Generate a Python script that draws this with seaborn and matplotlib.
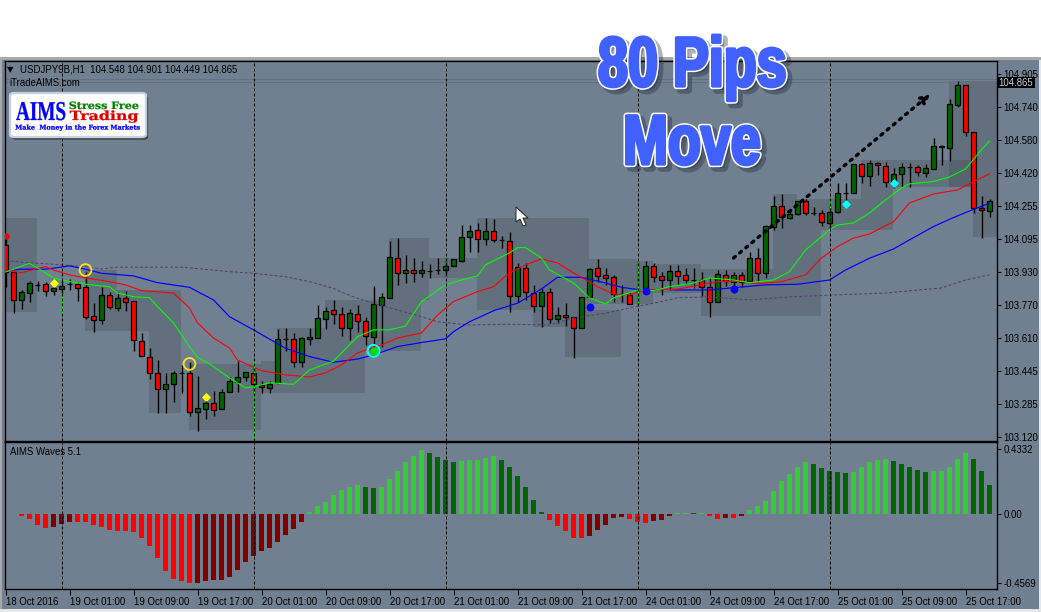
import numpy as np
import seaborn as sns
import matplotlib
matplotlib.use('Agg')
import matplotlib.pyplot as plt
import matplotlib.patheffects as pe
from matplotlib.patches import Rectangle, FancyBboxPatch, Polygon
from matplotlib.transforms import Affine2D

W, H = 1041, 612

# candles, one row per hourly bar: open, high, low, close
opens = [104.065,103.932,103.795,103.831,103.870,103.872,103.841,103.851,103.872,103.872,
         103.857,103.715,103.698,103.818,103.757,103.803,103.789,103.592,103.517,103.435,
         103.357,103.381,103.437,103.438,103.244,103.259,103.288,103.259,103.342,103.394,
         103.415,103.435,103.379,103.364,103.386,103.602,103.602,103.492,103.602,103.610,
         103.703,103.744,103.725,103.659,103.725,103.693,103.615,103.770,103.803,104.000,
         103.926,103.941,103.929,103.939,103.941,103.941,103.963,103.988,104.103,104.137,
         104.093,104.135,104.090,104.086,103.815,103.951,103.831,103.767,103.836,103.700,
         103.720,103.710,103.656,103.808,103.951,103.916,103.906,103.823,103.820,103.844,
         103.844,103.960,103.911,103.895,103.937,103.916,103.895,103.895,103.860,103.787,
         103.916,103.885,103.916,103.890,104.000,103.926,104.152,104.257,104.196,104.216,
         104.280,104.222,104.224,104.172,104.226,104.319,104.319,104.461,104.405,104.466,
         104.454,104.376,104.412,104.447,104.450,104.420,104.437,104.553,104.543,104.751,
         104.849,104.621,104.245,104.233]
highs = [104.109,103.932,103.844,103.888,103.888,103.885,103.877,103.893,103.897,103.883,
         103.932,103.779,103.857,103.836,103.836,103.841,103.790,103.632,103.558,103.500,
         103.437,103.448,103.476,103.491,103.422,103.309,103.348,103.357,103.418,103.495,
         103.443,103.468,103.399,103.399,103.653,103.656,103.632,103.612,103.656,103.770,
         103.762,103.795,103.762,103.751,103.770,103.713,103.864,103.828,104.086,104.098,
         104.016,104.000,103.988,103.972,104.000,104.000,103.995,104.163,104.163,104.172,
         104.196,104.191,104.109,104.127,103.975,103.975,103.869,103.852,103.852,103.762,
         103.779,103.713,103.810,103.951,103.996,103.951,103.918,103.869,103.836,103.983,
         103.988,103.975,103.932,103.967,103.967,103.951,103.951,103.934,103.901,103.942,
         103.942,103.932,103.934,104.032,104.049,104.163,104.306,104.314,104.237,104.283,
         104.289,104.250,104.237,104.261,104.368,104.368,104.461,104.469,104.482,104.474,
         104.471,104.442,104.466,104.469,104.458,104.461,104.589,104.556,104.782,104.870,
         104.851,104.621,104.306,104.289]
lows = [103.859,103.733,103.751,103.785,103.841,103.815,103.820,103.831,103.844,103.790,
        103.703,103.639,103.677,103.749,103.743,103.743,103.545,103.520,103.406,103.239,
        103.242,103.296,103.337,103.227,103.153,103.211,103.227,103.259,103.342,103.345,
        103.399,103.338,103.337,103.337,103.386,103.545,103.467,103.467,103.574,103.607,
        103.651,103.677,103.620,103.599,103.639,103.574,103.566,103.566,103.803,103.869,
        103.880,103.885,103.906,103.901,103.923,103.918,103.963,103.983,104.032,104.032,
        104.065,104.078,104.049,103.738,103.787,103.795,103.738,103.661,103.681,103.681,
        103.667,103.512,103.656,103.803,103.885,103.869,103.787,103.787,103.774,103.770,
        103.844,103.885,103.820,103.844,103.869,103.874,103.852,103.815,103.713,103.787,
        103.864,103.828,103.860,103.890,103.885,103.901,104.139,104.147,104.191,104.212,
        104.212,104.212,104.158,104.147,104.221,104.253,104.319,104.371,104.355,104.409,
        104.348,104.343,104.348,104.351,104.405,104.400,104.437,104.458,104.477,104.744,
        104.602,104.221,104.101,104.204]
closes = [103.932,103.795,103.833,103.877,103.870,103.841,103.854,103.862,103.872,103.855,
          103.713,103.698,103.818,103.762,103.803,103.787,103.597,103.521,103.435,103.357,
          103.381,103.435,103.437,103.244,103.263,103.288,103.253,103.342,103.396,103.415,
          103.440,103.381,103.366,103.382,103.602,103.602,103.489,103.607,103.612,103.705,
          103.742,103.725,103.659,103.730,103.693,103.618,103.774,103.808,104.005,103.926,
          103.941,103.929,103.941,103.939,103.941,103.960,103.995,104.106,104.132,104.093,
          104.132,104.090,104.090,103.816,103.956,103.836,103.767,103.836,103.700,103.720,
          103.710,103.656,103.808,103.946,103.914,103.904,103.823,103.823,103.774,103.844,
          103.960,103.909,103.895,103.937,103.914,103.895,103.895,103.857,103.787,103.921,
          103.888,103.916,103.885,104.000,103.926,104.158,104.257,104.201,104.216,104.280,
          104.224,104.222,104.176,104.226,104.319,104.319,104.461,104.405,104.466,104.456,
          104.376,104.412,104.447,104.447,104.422,104.442,104.553,104.545,104.756,104.849,
          104.621,104.245,104.235,104.280]

# moving averages, read at the bars where the line bends
green_bars = [0,3,4,6,8,10,13,14,16,18,19,21,23,24,26,28,30,31,33,36,38,41,42,44,46,48,50,52,55,57,59,60,63,64,65,67,68,71,73,75,76,79,81,83,86,88,91,93,96,98,100,103,104,106,108,110,112,113,116,118,120,122,123]
green_vals = [103.932,103.975,103.952,103.903,103.885,103.872,103.860,103.829,103.811,103.806,103.762,103.682,103.566,103.515,103.468,103.412,103.363,103.369,103.388,103.381,103.451,103.495,103.535,103.615,103.648,103.648,103.667,103.787,103.869,103.893,103.913,103.967,104.026,104.052,104.052,104.001,103.942,103.878,103.805,103.775,103.805,103.844,103.841,103.860,103.878,103.903,103.893,103.880,103.893,103.934,104.040,104.139,104.163,104.173,104.222,104.286,104.345,104.365,104.376,104.399,104.438,104.532,104.576]
red_bars = [0,2,5,6,8,10,13,15,17,21,23,24,26,28,29,32,35,38,40,42,44,47,49,52,54,56,59,61,63,65,67,69,71,74,76,78,80,84,87,89,92,94,97,100,102,104,106,108,111,113,116,119,121,123]
red_vals = [103.939,103.929,103.959,103.942,103.918,103.903,103.885,103.869,103.841,103.829,103.756,103.682,103.608,103.559,103.500,103.448,103.427,103.417,103.437,103.476,103.535,103.574,103.608,103.633,103.721,103.787,103.836,103.860,103.928,103.967,103.996,103.977,103.928,103.860,103.824,103.820,103.844,103.848,103.869,103.885,103.885,103.874,103.885,103.918,104.001,104.057,104.099,104.119,104.179,104.271,104.315,104.335,104.376,104.414]
blue_bars = [0,2,5,8,10,12,16,19,23,26,28,31,35,38,41,44,46,49,52,55,56,58,61,64,67,69,72,75,77,80,82,84,88,91,95,99,103,105,108,111,113,116,118,120,123]
blue_vals = [103.939,103.946,103.946,103.962,103.946,103.926,103.913,103.880,103.857,103.795,103.713,103.648,103.558,103.517,103.489,103.505,103.525,103.566,103.586,103.604,103.639,103.688,103.742,103.779,103.849,103.906,103.906,103.878,103.857,103.841,103.848,103.844,103.844,103.855,103.869,103.872,103.893,103.942,104.000,104.045,104.090,104.155,104.191,104.224,104.270]
purple_bars = [0,3,6,10,12,14,22,28,31,35,38,41,42,44,46,49,52,54,58,63,68,71,75,78,82,84,88,93,98,104,110,117,120,123]
purple_vals = [103.988,103.978,103.970,103.959,103.947,103.956,103.956,103.934,103.926,103.909,103.885,103.852,103.833,103.803,103.779,103.746,103.713,103.688,103.672,103.676,103.672,103.707,103.730,103.756,103.787,103.806,103.810,103.795,103.810,103.820,103.829,103.854,103.893,103.918]

# AIMS Waves histogram
hist_values = [.003,.003,-.013,-.033,-.073,-.091,-.087,-.067,-.053,-.053,-.053,-.073,-.087,-.107,-.113,-.113,
               -.12,-.16,-.213,-.293,-.38,-.433,-.447,-.46,-.46,-.447,-.44,-.44,-.42,-.373,-.32,-.28,
               -.247,-.227,-.187,-.14,-.10,-.053,.013,.053,.08,.127,.16,.18,.193,.18,.173,.18,
               .233,.287,.347,.387,.427,.407,.38,.36,.347,.353,.36,.36,.373,.387,.36,.313,
               .253,.18,.093,.013,-.04,-.08,-.113,-.16,-.16,-.147,-.107,-.073,-.027,-.02,-.033,-.053,
               -.06,-.047,-.04,-.013,.004,.004,.004,.004,-.013,-.033,-.027,-.027,-.013,.027,.053,.087,
               .153,.22,.267,.313,.347,.333,.307,.287,.28,.273,.28,.313,.347,.36,.367,.353,
               .333,.313,.293,.28,.287,.287,.313,.367,.407,.367,.287,.193]
hist_kind = list('LGRRRRDDD' + 'R'*15 + 'D'*14 + 'L'*7 + 'GG' + 'L'*6 + 'GGGG' + 'L'*5 + 'G'*6
                 + 'R'*5 + 'D'*5 + 'RRR' + 'DDD' + 'LLGLRRDRD' + 'L'*8 + 'G'*5 + 'L'*5 + 'G'*5 + 'L'*5 + 'GGG')
hist_palette = {'L': '#32cd32', 'G': '#006400', 'R': '#ff0000', 'D': '#800000'}

# grey session boxes: first bar, last bar, top price, bottom price
box_start = [0,10,14,18,23,32,34,40,45,48,53,59,66,70,73,79,81,87,96,99,102,107,111,118,121]
box_end   = [4,14,22,22,32,45,40,45,52,53,59,73,70,77,79,81,87,102,99,102,107,111,121,124,124]
box_top   = [104.198,103.942,103.844,103.643,103.481,103.495,103.658,103.795,103.795,104.099,104.001,104.198,103.746,103.746,103.996,103.986,103.972,103.947,104.315,104.291,104.291,104.482,104.482,104.870,104.350]
box_bot   = [103.736,103.643,103.643,103.240,103.157,103.338,103.495,103.495,103.545,103.795,103.903,103.746,103.662,103.515,103.775,103.775,103.829,103.716,103.947,103.947,104.139,104.139,104.350,104.350,104.104]

# signal markers
ring_bars, ring_prices = [10, 23], [103.942, 103.481]
yellow_bars, yellow_prices = [6, 25], [103.877, 103.320]
cyan_bars, cyan_prices = [105, 111], [104.265, 104.368]
blue_bars_dots, blue_prices_dots = [73, 80, 91], [103.762, 103.841, 103.848]

sep_bars = [7, 31, 55, 79, 103]
sep_lime_top = [103.829, 103.500, 104.001, 103.983, 104.286]
sep_lime_bot = [103.731, 103.108, 103.981, 103.770, 104.247]

price_ticks = [104.905,104.740,104.580,104.420,104.255,104.095,103.930,103.770,103.610,103.445,103.285,103.120]
price_labels = ['104.905','104.740','104.580','104.420','104.255','104.095','103.930','103.770','103.610','103.445','103.285','103.120']
wave_ticks = [0.4332, 0.0, -0.4569]
wave_labels = ['0.4332', '0.00', '-0.4569']
time_bars = [0,8,16,24,32,40,48,56,64,72,80,88,96,104,112,120]
time_labels = ['18 Oct 2016','19 Oct 01:00','19 Oct 09:00','19 Oct 17:00','20 Oct 01:00','20 Oct 09:00',
               '20 Oct 17:00','21 Oct 01:00','21 Oct 09:00','21 Oct 17:00','24 Oct 01:00','24 Oct 09:00',
               '24 Oct 17:00','25 Oct 01:00','25 Oct 09:00','25 Oct 17:00']

SLATE = '#708090'
LABEL_SIZE = 6.9
sns.set_style('white')
plt.rcParams['font.family'] = ['Liberation Sans', 'DejaVu Sans']
plt.rcParams['font.size'] = LABEL_SIZE


def fx(x):
    return x / W


def fy(y):
    return 1 - y / H


def panel(fig, x0, y0, x1, y1):
    ax = fig.add_axes([fx(x0), fy(y1), (x1 - x0) / W, (y1 - y0) / H])
    ax.set_facecolor(SLATE)
    for s in ax.spines.values():
        s.set_color('black')
        s.set_linewidth(1.0)
    return ax


class TallStroke(pe.AbstractPathEffect):
    # the caption font is tall and narrow, so stretch the glyphs upward from the baseline
    def __init__(self, stretch, width, color, dx=0, dy=0, alpha=1.0):
        super().__init__()
        self.stretch, self.width, self.color = stretch, width, color
        self.dx, self.dy, self.alpha = dx, dy, alpha

    def draw_path(self, renderer, gc, tpath, affine, rgbFace=None):
        base = affine.get_matrix()[1, 2]
        tall = affine + Affine2D().translate(0, -base).scale(1, self.stretch).translate(self.dx, base + self.dy)
        gc0 = renderer.new_gc()
        gc0.copy_properties(gc)
        gc0.set_foreground(self.color)
        gc0.set_linewidth(self.width)
        gc0.set_alpha(self.alpha)
        gc0.set_joinstyle('round')
        fill = matplotlib.colors.to_rgba(self.color)
        renderer.draw_path(gc0, tpath, tall, fill)
        gc0.restore()


def logo_text(x, base, txt, size, family, color, stretch, ha='center'):
    fig.text(fx(x), fy(base), txt, fontsize=size, family=family, weight='bold', color=color, ha=ha, va='baseline',
             zorder=5, path_effects=[TallStroke(stretch, 0.2, color)])


fig = plt.figure(figsize=(W / 100, H / 100), dpi=100, facecolor=SLATE)

# white page above the terminal and the light window frame round it
frame = [(0, 0, 1041, 57, 'white'), (0, 57, 1041, 3, '#a8a8a8'), (0, 609, 1041, 3, '#e6e6e6'),
         (0, 60, 2, 549, '#a8a8a8'), (1039, 60, 2, 549, '#e6e6e6')]
for x, y, w, h_, col in frame:
    fig.patches.append(Rectangle((fx(x), fy(y + h_)), w / W, h_ / H, transform=fig.transFigure, fc=col, ec='none'))

ax = panel(fig, 4.5, 61, 996.5, 440.5)
ax2 = panel(fig, 4.5, 442, 996.5, 589)

bars = np.arange(len(opens))
o, h, l, c = map(np.array, (opens, highs, lows, closes))

for b0, b1, t, b in zip(box_start, box_end, box_top, box_bot):
    ax.add_patch(Rectangle((b0 - 0.06, b), b1 - b0, t - b, fc='black', ec='none', alpha=0.12, zorder=1))

ax.axhline(104.882, color='#627181', lw=0.72, zorder=1)
ax.axhline(104.865, color='#627181', lw=0.72, zorder=1)

ax.vlines(bars, l, h, color='black', lw=1.0, zorder=3)
up = c >= o
body_low = np.minimum(o, c)
body_h = np.abs(c - o)
ax.bar(bars[up], body_h[up], bottom=body_low[up], width=0.56, color='#006400', edgecolor='black', linewidth=0.9, zorder=4)
ax.bar(bars[~up], body_h[~up], bottom=body_low[~up], width=0.56, color='#ff0000', edgecolor='black', linewidth=0.9, zorder=4)

sns.lineplot(x=purple_bars, y=purple_vals, ax=ax, color='#5a3c70', linewidth=0.72, linestyle=(0, (3, 2)), estimator=None, zorder=5)
sns.lineplot(x=blue_bars, y=blue_vals, ax=ax, color='#0000ff', linewidth=0.85, estimator=None, zorder=5)
sns.lineplot(x=red_bars, y=red_vals, ax=ax, color='#ff0000', linewidth=0.78, estimator=None, zorder=5)
sns.lineplot(x=green_bars, y=green_vals, ax=ax, color='#00ff00', linewidth=0.78, estimator=None, zorder=5)

ax.scatter(ring_bars, ring_prices, s=72, facecolors='none', edgecolors='#f5e617', linewidths=1.3, zorder=6)
ax.scatter([46], [103.545], s=72, facecolors='none', edgecolors='#00ffff', linewidths=1.5, zorder=6)
ax.scatter([46], [103.545], s=24, color='#00e000', zorder=6)
ax.scatter([0], [104.109], s=14, color='#ff0000', zorder=6)
ax.scatter(yellow_bars, yellow_prices, s=13, marker='D', color='#ffff00', zorder=6)
ax.scatter(cyan_bars, cyan_prices, s=13, marker='D', color='#00ffff', zorder=6)
ax.scatter(blue_bars_dots, blue_prices_dots, s=22, color='#0000ff', zorder=6)

ax.annotate('', xy=(115.6, 104.806), xytext=(91, 104.001), zorder=7,
            arrowprops=dict(arrowstyle='-|>', linestyle=(0, (0.7, 1.7)), lw=2.4, color='black', mutation_scale=13,
                            shrinkA=0, shrinkB=0))

sns.barplot(x=bars, y=hist_values, hue=hist_kind, palette=hist_palette, dodge=False, width=0.62, native_scale=True,
            legend=False, saturation=1, linewidth=0, edgecolor='none', ax=ax2, zorder=3)

ax.set_ylim(103.105, 104.968)
ax2.set_ylim(-0.5, 0.48)
for a in (ax, ax2):
    a.set_xlim(-0.125, 123.875)
    for b in sep_bars:
        a.axvline(b, color='black', lw=0.72, linestyle=(0, (3, 2)), zorder=8)
    a.set_xlabel('')
    a.set_ylabel('')
    a.yaxis.tick_right()
ax.vlines(sep_bars, sep_lime_bot, sep_lime_top, color='#00ff00', lw=0.72, zorder=7)

ax.set_xticks([])
ax.set_yticks(price_ticks, price_labels)
ax2.set_yticks(wave_ticks, wave_labels)
ax2.set_xticks(time_bars, time_labels, ha='left')
ax.tick_params(axis='y', right=True, length=3, width=0.8, pad=2, labelsize=LABEL_SIZE, colors='black')
ax2.tick_params(axis='y', right=True, length=3, width=0.8, pad=2, labelsize=LABEL_SIZE, colors='black')
ax2.tick_params(axis='x', bottom=True, length=4, width=0.8, pad=2, labelsize=LABEL_SIZE, colors='black')

# text written on the chart window
fig.text(fx(7), fy(69.7), '▼', fontsize=6, family='DejaVu Sans', va='center', color='black')
fig.text(fx(20), fy(69.7), 'USDJPY9B,H1  104.548 104.901 104.449 104.865', fontsize=LABEL_SIZE, va='center', color='black')
fig.text(fx(9), fy(83), 'iTradeAIMS.com', fontsize=LABEL_SIZE, va='center', color='black')
fig.text(fx(9.5), fy(452), 'AIMS Waves 5.1', fontsize=LABEL_SIZE, va='center', color='black')

# last price tag
fig.patches.append(Rectangle((fx(997), fy(87.7)), 38 / W, 11 / H, transform=fig.transFigure, fc='black', ec='none', zorder=4))
fig.text(fx(1016), fy(82.5), '104.865', fontsize=LABEL_SIZE, va='center', ha='center', color='#c4d2e0', zorder=5)

# logo
logo = FancyBboxPatch((fx(10), fy(137)), 136 / W, 44 / H, boxstyle='round,pad=0,rounding_size=0.004',
                      transform=fig.transFigure, fc='white', ec='#c8d0e0', lw=1.6, zorder=4,
                      path_effects=[pe.SimplePatchShadow(offset=(1.5, -2), shadow_rgbFace='#2c3440', alpha=0.7), pe.Normal()])
fig.patches.append(logo)
logo_text(41, 120, 'AIMS', 13.8, 'Liberation Serif', '#0000ff', 1.42)
logo_text(104, 109, 'Stress Free', 8.0, 'DejaVu Serif', '#008000', 0.9)
logo_text(104, 120, 'Trading', 11.4, 'DejaVu Serif', '#e00000', 0.8)
logo_text(77.5, 129.5, 'Make  Money in the Forex Markets', 4.6, 'DejaVu Serif', '#0000ff', 1.0)

# big caption
effects = [TallStroke(1.3, 5.5, '#1c2436', dx=4, dy=-4, alpha=0.35),
           TallStroke(1.3, 4.6, 'white'),
           TallStroke(1.3, 2.4, '#4060ff')]
for txt, cx, base in (('80 Pips', 692.5, 86), ('Move', 692, 164)):
    fig.text(fx(cx), fy(base), txt, fontsize=38.8, weight='bold', color='#4060ff', family='Liberation Sans',
             ha='center', va='baseline', zorder=6, path_effects=effects)

# mouse pointer
cursor = np.array([[516, 207], [516, 222], [520, 219], [523, 226], [526, 225], [523, 218], [528, 218]], dtype=float)
fig.patches.append(Polygon(np.c_[cursor[:, 0] / W, 1 - cursor[:, 1] / H], transform=fig.transFigure, fc='white', ec='#222222', lw=0.7, zorder=5))

fig.savefig('out.png', dpi=100, facecolor=fig.get_facecolor())
